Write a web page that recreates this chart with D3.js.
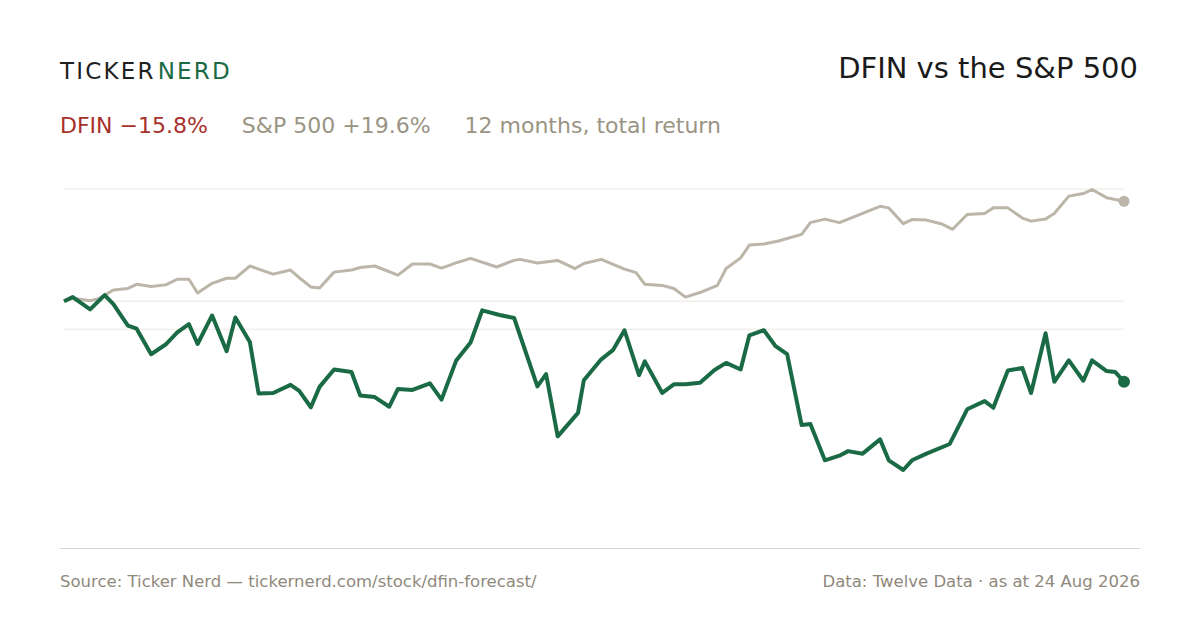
<!DOCTYPE html>
<html><head><meta charset="utf-8">
<script src="https://cdn.jsdelivr.net/npm/d3@7"></script>
<style>body{margin:0;background:#fff;font-family:"DejaVu Sans",sans-serif}</style>
</head><body><svg id="c" width="1200" height="630"></svg>
<script>
// Days since start, total return in %
const dfinDays = [0,3,9,14,17,22,25,30,35,39,43,46,51,56,59,64,67,72,78,81,85,88,93,99,102,107,112,115,120,126,130,135,140,144,150,155,163,166,170,177,179,185,189,193,198,200,206,210,214,219,224,228,233,236,241,245,249,254,257,262,267,270,275,281,284,289,292,297,305,311,317,320,325,330,333,338,341,346,351,354,359,362,365];
const dfinReturn = [0,0.8,-1.6,1.2,-0.6,-4.8,-5.4,-10.4,-8.5,-6.1,-4.5,-8.4,-2.8,-9.8,-3.2,-8.0,-18.1,-18.0,-16.4,-17.6,-20.8,-16.8,-13.4,-13.9,-18.5,-18.8,-20.7,-17.2,-17.4,-16.1,-19.3,-11.7,-8.1,-1.8,-2.7,-3.3,-16.7,-14.3,-26.5,-21.9,-15.5,-11.4,-9.6,-5.7,-14.5,-11.8,-18.0,-16.3,-16.3,-16.0,-13.5,-12.1,-13.4,-6.7,-5.7,-8.8,-10.4,-24.3,-24.1,-31.2,-30.3,-29.4,-29.9,-27.1,-31.2,-33.1,-31.2,-29.9,-28.0,-21.2,-19.6,-20.9,-13.6,-13.1,-18.0,-6.3,-15.8,-11.6,-15.6,-11.6,-13.7,-13.9,-15.8];
const spxDays = [0,3,9,12,17,22,25,30,35,39,43,46,51,56,59,64,68,72,78,81,85,88,93,99,102,107,115,120,126,130,135,140,149,155,157,163,170,176,179,185,193,197,200,206,210,214,219,225,228,233,236,241,246,254,257,262,267,275,281,284,289,292,297,302,306,311,317,320,325,330,333,338,341,346,351,354,359,365];
const spxReturn = [0,0.6,0.1,0.5,2.2,2.5,3.3,2.9,3.2,4.3,4.3,1.6,3.5,4.5,4.5,6.9,6.1,5.3,6.1,4.6,2.8,2.6,5.7,6.1,6.6,6.9,5.1,7.3,7.3,6.5,7.5,8.4,6.7,8.0,8.2,7.5,8.0,6.4,7.4,8.2,6.3,5.6,3.3,3.1,2.5,0.8,1.7,3.1,6.4,8.5,11.0,11.2,11.8,13.1,15.4,16.1,15.4,17.2,18.6,18.3,15.2,16.0,15.9,15.2,14.1,17.0,17.2,18.3,18.3,16.3,15.7,16.1,17.2,20.6,21.1,21.9,20.3,19.6];
const gridValues = [22, 0, -5.5];

const svg = d3.select('#c');
const x = d3.scaleLinear().domain([0, 365]).range([64, 1124]);
const y = d3.scaleLinear().domain([-48.4, 22]).range([548, 189]);

const sand = '#bcb5a9', green = '#1a6b45';

svg.selectAll('.grid').data(gridValues).enter().append('line')
  .attr('x1', 64).attr('x2', 1124)
  .attr('y1', (d) => y(d)).attr('y2', (d) => y(d))
  .attr('stroke', '#ebe8e2').attr('stroke-width', 1);

svg.append('line').attr('x1', 60).attr('x2', 1140).attr('y1', 548.5).attr('y2', 548.5)
  .attr('stroke', '#d9d5cc');

const line = d3.line().x((d) => x(d[0])).y((d) => y(d[1]));
const spx = d3.zip(spxDays, spxReturn);
const dfin = d3.zip(dfinDays, dfinReturn);

svg.append('path').attr('d', line(spx)).attr('fill', 'none')
  .attr('stroke', sand).attr('stroke-width', 3).attr('stroke-linejoin', 'round');
svg.append('path').attr('d', line(dfin)).attr('fill', 'none')
  .attr('stroke', green).attr('stroke-width', 4).attr('stroke-linejoin', 'round');

svg.append('circle').attr('cx', x(365)).attr('cy', y(spxReturn[spxReturn.length - 1])).attr('r', 5.5).attr('fill', sand);
svg.append('circle').attr('cx', x(365)).attr('cy', y(dfinReturn[dfinReturn.length - 1])).attr('r', 6).attr('fill', green);

// Header
const logo = svg.append('text').attr('x', 60).attr('y', 79).attr('font-size', 23)
  .attr('letter-spacing', 2.2);
logo.append('tspan').attr('fill', '#1f1f1f').text('TICKER');
logo.append('tspan').attr('fill', green).attr('dx', 2).text('NERD');

svg.append('text').attr('x', 1138).attr('y', 78).attr('text-anchor', 'end')
  .attr('font-size', 29).attr('fill', '#1a1a1a').text('DFIN vs the S&P 500');

const sub = svg.append('text').attr('x', 60).attr('y', 133).attr('font-size', 22);
sub.append('tspan').attr('fill', '#a8302a').text('DFIN \u221215.8%');
sub.append('tspan').attr('fill', '#9a9484').attr('dx', 34).text('S&P 500 +19.6%');
sub.append('tspan').attr('fill', '#9a9484').attr('dx', 34).text('12 months, total return');

svg.append('text').attr('x', 60).attr('y', 587).attr('font-size', 16.5).attr('fill', '#8f897c')
  .text('Source: Ticker Nerd \u2014 tickernerd.com/stock/dfin-forecast/');
svg.append('text').attr('x', 1140).attr('y', 587).attr('font-size', 16.5).attr('fill', '#8f897c')
  .attr('text-anchor', 'end').text('Data: Twelve Data \u00b7 as at 24 Aug 2026');
</script></body></html>
